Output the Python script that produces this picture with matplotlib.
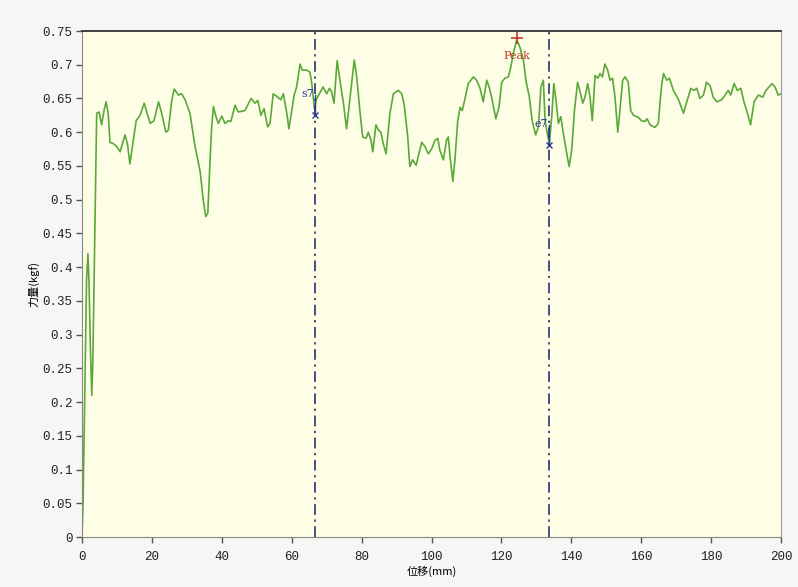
import matplotlib
matplotlib.use("Agg")
import matplotlib.pyplot as plt
from matplotlib.ticker import FixedLocator, FuncFormatter

# Displacement (mm) and force (kgf)
disp = [0.0, 0.3, 0.6, 1.0, 1.3, 1.7, 2.0, 2.4, 2.8, 3.1, 3.4, 3.7, 4.0,
        4.2, 4.9, 5.6, 6.3, 6.9, 7.5, 8.0, 9.0, 9.9, 10.9, 12.3, 13.0, 13.7,
        14.7, 15.5, 16.6, 17.8, 18.5, 19.5, 20.6, 21.9, 22.8, 24.0, 24.7,
        25.7, 26.4, 27.6, 28.5, 29.5, 30.9, 32.3, 33.8, 34.7, 35.4, 36.0,
        36.6, 37.1, 37.6, 38.2, 39.0, 40.0, 40.9, 41.9, 42.6, 43.8, 44.7,
        46.6, 48.4, 49.5, 50.3, 51.2, 52.1, 53.1, 53.8, 54.7, 56.0, 56.9,
        57.6, 58.6, 59.2, 60.0, 60.7, 61.4, 62.4, 63.0, 64.3, 65.2, 65.7,
        66.5, 67.0, 67.9, 69.0, 70.0, 70.8, 71.4, 72.1, 73.0, 73.8, 74.8,
        75.7, 76.7, 77.9, 78.6, 79.5, 80.3, 81.3, 81.9, 82.7, 83.2, 84.1,
        84.8, 85.5, 86.2, 87.0, 88.1, 89.1, 90.5, 91.5, 92.2, 93.2, 93.8,
        94.6, 95.6, 96.2, 97.2, 98.1, 99.1, 100.1, 101.0, 101.8, 102.4,
        103.4, 104.3, 104.8, 105.3, 106.1, 106.7, 107.5, 108.2, 108.8,
        109.6, 110.5, 112.0, 112.9, 113.9, 114.8, 115.8, 116.5, 117.2,
        118.4, 119.3, 120.1, 121.0, 122.0, 122.7, 123.5, 124.4, 125.3,
        126.3, 127.0, 128.0, 128.8, 129.8, 130.6, 131.3, 132.0, 132.5,
        133.1, 133.7, 134.4, 135.0, 135.6, 136.3, 137.0, 137.7, 138.7,
        139.4, 140.1, 140.9, 141.8, 142.5, 143.3, 143.9, 144.7, 145.4,
        146.0, 146.8, 147.6, 148.2, 148.9, 149.6, 150.4, 151.1, 151.8,
        152.5, 153.3, 153.9, 154.7, 155.4, 156.3, 157.0, 157.8, 159.2,
        160.1, 161.1, 161.7, 162.5, 163.9, 164.9, 165.4, 165.9, 166.4,
        167.3, 168.1, 169.2, 170.7, 172.1, 173.2, 174.2, 175.1, 175.9,
        176.8, 177.8, 178.7, 179.7, 180.6, 181.6, 183.0, 184.0, 184.9,
        185.6, 186.6, 187.5, 188.5, 189.4, 190.4, 191.3, 192.3, 193.5,
        194.8, 195.7, 197.4, 198.3, 199.2, 200.0]
force = [0.0, 0.05, 0.15, 0.28, 0.38, 0.42, 0.38, 0.28, 0.21, 0.26, 0.36,
         0.46, 0.57,
         0.628, 0.630, 0.611, 0.632, 0.645, 0.628, 0.585, 0.583, 0.579,
         0.571, 0.596, 0.583, 0.553, 0.588, 0.617, 0.625, 0.643, 0.630,
         0.613, 0.617, 0.645, 0.628, 0.600, 0.603, 0.648, 0.664, 0.655,
         0.657, 0.648, 0.628, 0.580, 0.542, 0.499, 0.475, 0.480, 0.554,
         0.608, 0.638, 0.625, 0.613, 0.624, 0.613, 0.617, 0.616, 0.640,
         0.630, 0.632, 0.650, 0.643, 0.647, 0.625, 0.635, 0.608, 0.613,
         0.657, 0.652, 0.648, 0.657, 0.628, 0.605, 0.632, 0.655, 0.667,
         0.701, 0.692, 0.692, 0.689, 0.674, 0.635, 0.648, 0.657, 0.667,
         0.657, 0.665, 0.660, 0.643, 0.706, 0.677, 0.643, 0.605, 0.652,
         0.707, 0.682, 0.632, 0.593, 0.591, 0.600, 0.588, 0.571, 0.611,
         0.603, 0.600, 0.583, 0.568, 0.628, 0.657, 0.662, 0.657, 0.640,
         0.593, 0.549, 0.559, 0.551, 0.564, 0.585, 0.579, 0.568, 0.576,
         0.588, 0.591, 0.573, 0.559, 0.588, 0.593, 0.564, 0.527, 0.559,
         0.617, 0.637, 0.632, 0.650, 0.672, 0.682, 0.677, 0.665, 0.645,
         0.677, 0.667, 0.652, 0.620, 0.637, 0.674, 0.680, 0.682, 0.697,
         0.719, 0.737, 0.726, 0.707, 0.677, 0.652, 0.617, 0.596, 0.608,
         0.667, 0.677, 0.617, 0.599, 0.583, 0.623, 0.672, 0.648, 0.613,
         0.623, 0.599, 0.568, 0.549, 0.573, 0.632, 0.674, 0.660, 0.643,
         0.652, 0.672, 0.650, 0.617, 0.684, 0.680, 0.687, 0.682, 0.701,
         0.692, 0.677, 0.680, 0.652, 0.600, 0.632, 0.677, 0.682, 0.674,
         0.632, 0.625, 0.622, 0.617, 0.616, 0.620, 0.611, 0.607, 0.613,
         0.645, 0.672, 0.687, 0.677, 0.680, 0.662, 0.648, 0.628, 0.648,
         0.665, 0.662, 0.665, 0.650, 0.655, 0.674, 0.669, 0.652, 0.645,
         0.648, 0.655, 0.662, 0.655, 0.672, 0.662, 0.665, 0.645, 0.628,
         0.611, 0.645, 0.655, 0.652, 0.662, 0.672, 0.667, 0.655, 0.657]

x_ticks = [0, 20, 40, 60, 80, 100, 120, 140, 160, 180, 200]
y_ticks = [0, 0.05, 0.1, 0.15, 0.2, 0.25, 0.3, 0.35, 0.4, 0.45, 0.5,
           0.55, 0.6, 0.65, 0.7, 0.75]

cursor_x = [66.7, 133.7]
cursor_y = [0.625, 0.581]
cursor_labels = ["s7", "e7"]
peak_x, peak_y = 124.5, 0.739

fig = plt.figure(figsize=(7.98, 5.87), dpi=100)
fig.patch.set_facecolor("#f6f6f4")
ax = fig.add_axes([82/798, 1 - 537/587, (781 - 82)/798, (537 - 31)/587])
ax.set_facecolor("#fefee6")

ax.plot(disp, force, color="#5aa83a", lw=1.2)

for cx in cursor_x:
    ax.axvline(cx, color="#1c1c6e", lw=1.1, ls=(0, (7, 3, 1.5, 3)))
for cx, cy, lab in zip(cursor_x, cursor_y, cursor_labels):
    ax.plot([cx, cx], [cy, cy + 0.03], color="#2a3a9a", lw=1.0)
    ax.plot(cx, cy, marker="x", color="#2a3a9a", ms=5, mew=1.0)
    ax.text(cx - 0.3, cy + 0.031, lab, color="#2a3a9a", fontsize=8,
            ha="right", va="center", family="DejaVu Serif")

ax.plot(peak_x, peak_y, marker="+", color="#c0392b", ms=9, mew=1.2)
ax.text(peak_x, peak_y - 0.026, "Peak", color="#b5402a", fontsize=8,
        ha="center", va="center", family="DejaVu Serif")

ax.set_xlim(0, 200)
ax.set_ylim(0, 0.75)
ax.xaxis.set_major_locator(FixedLocator(x_ticks))
ax.yaxis.set_major_locator(FixedLocator(y_ticks))
ax.yaxis.set_major_formatter(FuncFormatter(lambda v, p: ("%g" % round(v, 2))))
ax.tick_params(direction="out", length=4, width=1, color="#555555",
               labelsize=9, labelcolor="#222222")
ax.tick_params(axis="x", pad=6)
ax.tick_params(axis="y", pad=3)
for lab in ax.get_xticklabels() + ax.get_yticklabels():
    lab.set_family("Liberation Mono")

for side in ["left", "bottom"]:
    ax.spines[side].set_color("#888888")
ax.spines["top"].set_color("#333333")
ax.spines["top"].set_linewidth(1.3)
ax.spines["right"].set_color("#999999")

ax.set_xlabel("位移(mm)", family=["Noto Sans CJK SC", "DejaVu Sans"],
              fontsize=8, labelpad=2)
ax.set_ylabel("力量(kgf)", family=["Noto Sans CJK SC", "DejaVu Sans"],
              fontsize=8, labelpad=2)

fig.savefig("out.png", dpi=100, facecolor=fig.get_facecolor())
